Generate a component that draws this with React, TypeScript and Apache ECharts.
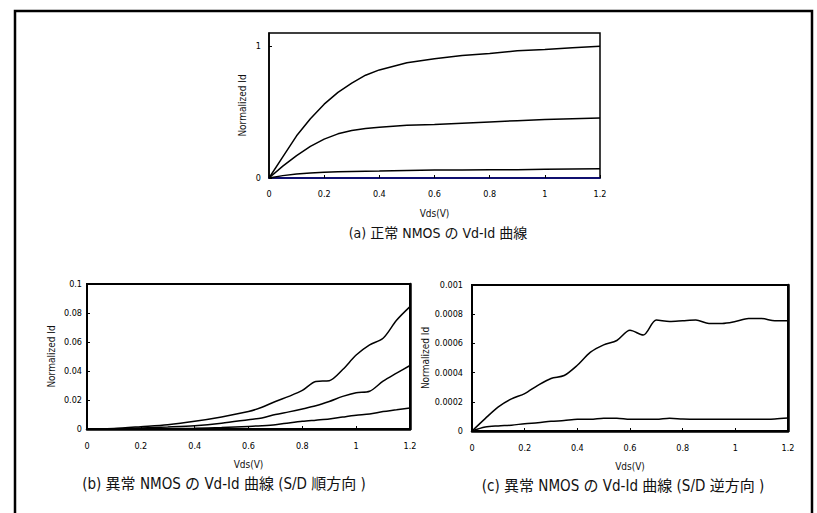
import React, { useEffect, useRef } from "react";
import * as echarts from "echarts";

// ---- Data ----
const vdsA = [0, 0.05, 0.1, 0.15, 0.2, 0.25, 0.3, 0.35, 0.4, 0.5, 0.6, 0.7, 0.8, 0.9, 1.0, 1.1, 1.2];
const normalTop = [0, 0.16, 0.32, 0.45, 0.56, 0.65, 0.72, 0.78, 0.82, 0.875, 0.905, 0.93, 0.945, 0.965, 0.975, 0.988, 1.0];
const normalMid = [0, 0.09, 0.17, 0.24, 0.295, 0.335, 0.36, 0.375, 0.385, 0.4, 0.405, 0.415, 0.425, 0.435, 0.443, 0.45, 0.455];
const normalLow = [0, 0.018, 0.03, 0.038, 0.043, 0.047, 0.05, 0.052, 0.053, 0.056, 0.06, 0.061, 0.062, 0.062, 0.066, 0.068, 0.07];

const vdsB = [0, 0.05, 0.1, 0.2, 0.3, 0.4, 0.5, 0.6, 0.65, 0.7, 0.75, 0.8, 0.85, 0.9, 0.95, 1.0, 1.05, 1.1, 1.15, 1.2];
const fwdTop = [0, 0, 0.0003, 0.0016, 0.003, 0.0053, 0.0083, 0.012, 0.015, 0.019, 0.0225, 0.0266, 0.0328, 0.0333, 0.041, 0.051, 0.058, 0.0626, 0.075, 0.0844];
const fwdMid = [0, 0, 0.0001, 0.0007, 0.0014, 0.0023, 0.004, 0.0064, 0.0076, 0.01, 0.0118, 0.0138, 0.016, 0.019, 0.0225, 0.025, 0.026, 0.033, 0.0385, 0.0438];
const fwdLow = [0, 0, 0, 0, 0.0002, 0.0005, 0.001, 0.0018, 0.0023, 0.003, 0.0042, 0.0053, 0.0061, 0.0069, 0.0082, 0.0094, 0.0103, 0.012, 0.0132, 0.0145];

const vdsC = [0, 0.05, 0.1, 0.15, 0.2, 0.25, 0.3, 0.35, 0.4, 0.45, 0.5, 0.55, 0.6, 0.65, 0.7, 0.75, 0.8, 0.85, 0.9, 0.95, 1.0, 1.05, 1.1, 1.15, 1.2];
const revTop = [0, 0.000085, 0.000165, 0.00022, 0.000256, 0.000313, 0.00036, 0.00038, 0.00045, 0.00054, 0.00059, 0.00062, 0.00069, 0.000657, 0.00076, 0.00075, 0.000755, 0.00076, 0.000737, 0.000737, 0.00075, 0.00077, 0.00077, 0.000755, 0.000755];
const revLow = [0, 0.000027, 0.000035, 0.00004, 0.00005, 0.000057, 0.000066, 0.000072, 0.00008, 0.00008, 0.000087, 0.000087, 0.00008, 0.00008, 0.00008, 0.000087, 0.000082, 0.00008, 0.00008, 0.00008, 0.00008, 0.00008, 0.00008, 0.000083, 0.000089];

const xTicks = { min: 0, max: 1.2, interval: 0.2 };
const yA = { min: 0, max: 1.1, interval: 1 };
const yB = { min: 0, max: 0.1, interval: 0.02 };
const yC = { min: 0, max: 0.001, interval: 0.0002 };

const xName = "Vds(V)";
const yName = "Normalized Id";
const captionA = "(a) 正常 NMOS の Vd-Id 曲線";
const captionB = "(b) 異常 NMOS の Vd-Id 曲線 (S/D 順方向 )";
const captionC = "(c) 異常 NMOS の Vd-Id 曲線 (S/D 逆方向 )";

const pairs = (xs: number[], ys: number[]) => xs.map((x, i) => [x, ys[i]]);

const NARROW = "'Liberation Sans Narrow', 'DejaVu Sans Condensed', 'Noto Sans CJK JP', sans-serif";

export default function App() {
  const ref = useRef<HTMLDivElement>(null);
  useEffect(() => {
    if (!ref.current) return;
    const chart = echarts.init(ref.current, undefined, { renderer: "svg" });

    const labelStyle = { fontSize: 9, color: "#000", fontFamily: NARROW };
    const mkX = (gridIndex: number, lineColor: string, lineWidth: number, margin: number) => ({
      type: "value",
      gridIndex,
      ...xTicks,
      name: xName,
      nameLocation: "middle",
      nameGap: 30,
      nameTextStyle: { fontSize: 10, color: "#111", fontFamily: NARROW },
      axisLine: { show: true, lineStyle: { color: lineColor, width: lineWidth } },
      axisTick: { show: true, inside: true, length: 3, lineStyle: { color: "#000", width: 1 } },
      axisLabel: { ...labelStyle, margin },
      splitLine: { show: false },
    });
    const mkY = (gridIndex: number, range: any, nameGap: number, margin: number, showMax: boolean) => ({
      type: "value",
      gridIndex,
      ...range,
      name: yName,
      nameLocation: "middle",
      nameGap,
      nameRotate: 90,
      nameTextStyle: { fontSize: 10, color: "#111", fontFamily: NARROW },
      axisLine: { show: true, lineStyle: { color: "#000", width: 1.5 } },
      axisTick: { show: true, inside: true, length: 3, lineStyle: { color: "#000", width: 1 } },
      axisLabel: { ...labelStyle, margin, showMaxLabel: showMax },
      splitLine: { show: false },
    });
    const mkRightY = (gridIndex: number, range: any) => ({
      type: "value",
      gridIndex,
      position: "right",
      ...range,
      axisLine: { show: true, lineStyle: { color: "#000", width: 2.5 } },
      axisTick: { show: false },
      axisLabel: { show: false },
      splitLine: { show: false },
    });
    const line = (xi: number, yi: number, data: number[][], smooth: number | boolean) => ({
      type: "line",
      xAxisIndex: xi,
      yAxisIndex: yi,
      data,
      symbol: "none",
      smooth,
      lineStyle: { color: "#000", width: 1.5 },
    });

    chart.setOption({
      animation: false,
      backgroundColor: "#fff",
      grid: [
        { left: 269, top: 33, width: 331, height: 145, show: true, borderColor: "#000", borderWidth: 1.5 },
        { left: 87, top: 284, width: 323, height: 145, show: true, borderColor: "#000", borderWidth: 2 },
        { left: 472, top: 285, width: 316, height: 146, show: true, borderColor: "#000", borderWidth: 2 },
      ],
      xAxis: [mkX(0, "#000080", 1.5, 11), mkX(1, "#000", 2.5, 12), mkX(2, "#000", 2.5, 12)],
      yAxis: [mkY(0, yA, 22, 8, false), mkY(1, yB, 31, 5, true), mkY(2, yC, 37, 9, true), mkRightY(1, yB), mkRightY(2, yC)],
      series: [
        line(0, 0, pairs(vdsA, normalTop), false),
        line(0, 0, pairs(vdsA, normalMid), false),
        line(0, 0, pairs(vdsA, normalLow), false),
        line(1, 1, pairs(vdsB, fwdTop), 0.3),
        line(1, 1, pairs(vdsB, fwdMid), 0.3),
        line(1, 1, pairs(vdsB, fwdLow), 0.3),
        line(2, 2, pairs(vdsC, revTop), 0.3),
        line(2, 2, pairs(vdsC, revLow), 0.3),
      ],
      graphic: [
        {
          type: "rect",
          shape: { x: 15, y: 11, width: 797, height: 530 },
          style: { fill: "none", stroke: "#000", lineWidth: 2.5 },
          silent: true,
        },
        {
          type: "text",
          x: 438,
          y: 233,
          style: { text: captionA, fontSize: 14, fontFamily: NARROW, fill: "#111", textAlign: "center", textVerticalAlign: "middle" },
        },
        {
          type: "text",
          x: 224,
          y: 484,
          style: { text: captionB, fontSize: 15, fontFamily: NARROW, fill: "#111", textAlign: "center", textVerticalAlign: "middle" },
        },
        {
          type: "text",
          x: 623,
          y: 486,
          style: { text: captionC, fontSize: 15, fontFamily: NARROW, fill: "#111", textAlign: "center", textVerticalAlign: "middle" },
        },
      ],
    });
    return () => chart.dispose();
  }, []);
  return <div ref={ref} style={{ position: "fixed", left: 0, top: 0, width: 817, height: 513 }} />;
}
